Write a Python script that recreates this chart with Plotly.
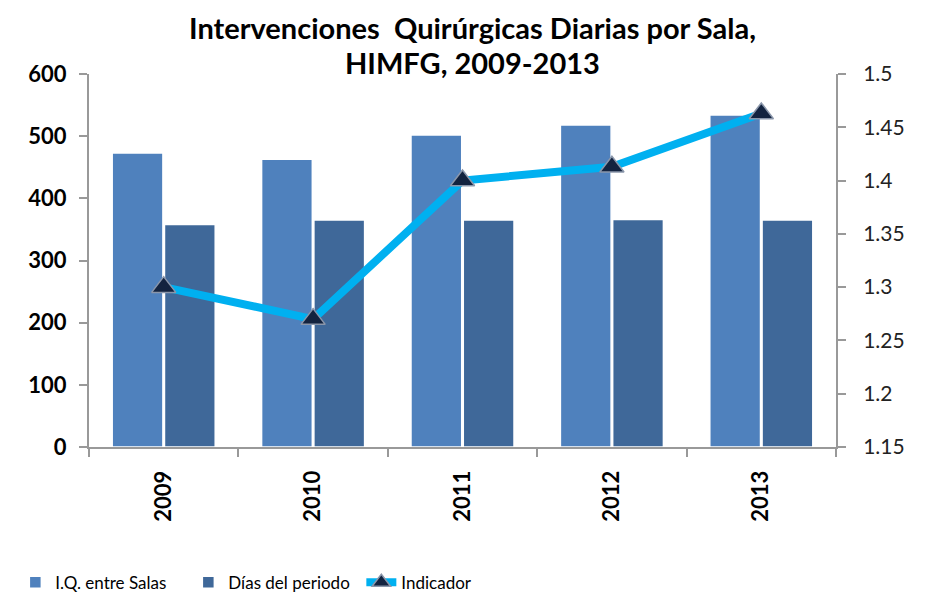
import plotly.graph_objects as go

years = ["2009", "2010", "2011", "2012", "2013"]
iq_salas = [473, 463, 502, 518, 534]
dias_periodo = [358, 365, 365, 366, 365]
indicador = [1.30, 1.27, 1.40, 1.413, 1.463]

title_lines = ["Intervenciones  Quirúrgicas Diarias por Sala,", "HIMFG, 2009-2013"]

FONT = "Lato"

# page body has an 8px margin; figure is sized/offset to compensate
fig = go.Figure()
fig.add_trace(go.Bar(
    x=years, y=iq_salas, name="I.Q. entre Salas",
    marker=dict(color="#4F81BD", line=dict(color="white", width=1.5)),
))
fig.add_trace(go.Bar(
    x=years, y=dias_periodo, name="Días del periodo",
    marker=dict(color="#3F6899", line=dict(color="white", width=1.5)),
))
fig.add_trace(go.Scatter(
    x=years, y=indicador, name="Indicador", yaxis="y2", mode="lines+markers",
    line=dict(color="#00B0F0", width=8),
    marker=dict(symbol="triangle-up", size=21, color="#13233F",
                line=dict(color="#8A96AA", width=1.5)),
))

for txt, yy in zip(title_lines, [1.126, 1.03]):
    fig.add_annotation(text="<b>" + txt + "</b>", xref="paper", yref="paper",
                       x=0.513, y=yy, xanchor="center", yanchor="middle",
                       showarrow=False, font=dict(size=29, family=FONT, color="black"))

fig.update_layout(
    width=918, height=590,
    margin=dict(l=81, r=90, t=66, b=151, autoexpand=False),
    paper_bgcolor="white", plot_bgcolor="white",
    font=dict(family=FONT, color="black"),
    barmode="group", bargap=0.3, bargroupgap=0.03,
    showlegend=True,
    legend=dict(orientation="h", xref="container", x=0.008, xanchor="left",
                yref="container", y=0.026, yanchor="middle",
                font=dict(size=17, family=FONT, color="black"),
                itemwidth=30, traceorder="normal",
                entrywidth=128, entrywidthmode="pixels"),
    xaxis=dict(
        type="category", tickangle=-90, showline=True, linecolor="#999999", linewidth=2,
        ticks="outside", tickson="boundaries", ticklen=8, tickcolor="#999999", tickwidth=2,
        tickfont=dict(size=22, family=FONT, color="black", weight="bold"),
        showgrid=False, automargin=False, ticklabelstandoff=13,
    ),
    yaxis=dict(
        range=[0, 600], dtick=100, showline=True, linecolor="#999999", linewidth=2,
        ticks="outside", ticklen=8, tickcolor="#999999", tickwidth=2,
        tickfont=dict(size=22, family=FONT, color="black", weight="bold"),
        showgrid=False, zeroline=False, ticklabelstandoff=8, automargin=False,
    ),
    yaxis2=dict(
        range=[1.15, 1.5], dtick=0.05, overlaying="y", side="right",
        showline=True, linecolor="#999999", linewidth=2,
        ticks="outside", ticklen=8, tickcolor="#999999", tickwidth=2,
        tickfont=dict(size=21, family=FONT, color="#222222"),
        showgrid=False, zeroline=False, ticklabelstandoff=13, automargin=False,
    ),
)

fig.write_html("out.html")
